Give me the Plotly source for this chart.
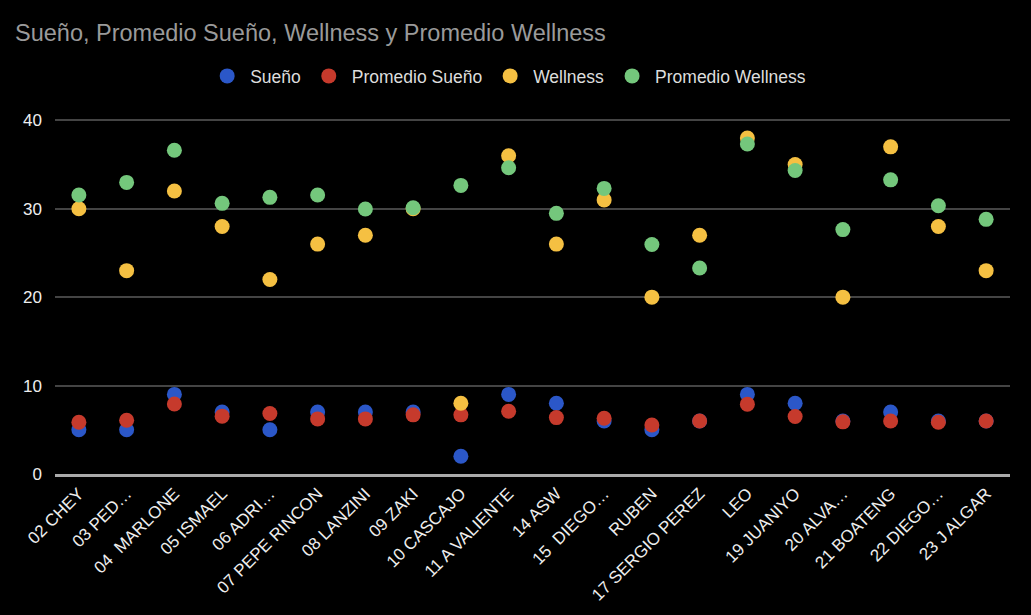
import plotly.graph_objects as go

categories = ["02 CHEY", "03 PED…", "04  MARLONE", "05 ISMAEL", "06 ADRI…", "07 PEPE RINCON",
              "08 LANZINI", "09 ZAKI", "10 CASCAJO", "11 A VALIENTE", "14 ASW", "15  DIEGO…",
              "RUBEN", "17 SERGIO PEREZ", "LEO", "19 JUANIYO", "20 ALVA…", "21 BOATENG",
              "22 DIEGO…", "23 J ALGAR"]

sueno = [5, 5, 9, 7, 5, 7, 7, 7, 2, 9, 8, 6, 5, 6, 9, 8, 6, 7, 6, 6]
promedio_sueno = [5.86, 6.08, 7.92, 6.54, 6.85, 6.23, 6.23, 6.69, 6.69, 7.1, 6.38, 6.3,
                  5.55, 6.0, 7.9, 6.5, 5.9, 6.0, 5.85, 6.0]
wellness = [30, 23, 32, 28, 22, 26, 27, 30, 8, 36, 26, 31, 20, 27, 38, 35, 20, 37, 28, 23]
promedio_wellness = [31.55, 32.98, 36.62, 30.61, 31.29, 31.55, 29.97, 30.12, 32.64, 34.63,
                     29.48, 32.3, 25.95, 23.29, 37.33, 34.33, 27.64, 33.27, 30.34, 28.8]

series = [
    ("Sueño", sueno, "#2b57c8"),
    ("Promedio Sueño", promedio_sueno, "#c63a2c"),
    ("Wellness", wellness, "#f5c042"),
    ("Promedio Wellness", promedio_wellness, "#74c77c"),
]

fig = go.Figure()
for name, vals, color in series:
    fig.add_trace(go.Scatter(x=categories, y=vals, mode="markers", name=name,
                             marker=dict(color=color, size=15, line=dict(width=0))))

fig.update_layout(
    width=1031, height=615,
    paper_bgcolor="#000000", plot_bgcolor="#000000",
    font=dict(family="Liberation Sans, Arial, sans-serif", color="#eeeeee", size=17),
    title=dict(text="Sueño, Promedio Sueño, Wellness y Promedio Wellness",
               x=15 / 1031, xanchor="left", y=1 - 33 / 615, yanchor="middle",
               font=dict(size=23.5, color="#9a9a9a")),
    legend=dict(orientation="h", x=0.474, xanchor="center", y=1 - 76 / 615, yanchor="middle",
                yref="container", font=dict(size=17.5, color="#dddddd"), itemwidth=36,
                bgcolor="rgba(0,0,0,0)"),
    margin=dict(l=55, r=21, t=119, b=141, autoexpand=False),
    showlegend=True,
)
fig.update_xaxes(tickangle=-45, showgrid=False, ticks="", showline=True,
                 linecolor="#aaaaaa", linewidth=3, automargin=False,
                 range=[-0.5, len(categories) - 0.5],
                 tickfont=dict(size=17, color="#eeeeee"), zeroline=False)
fig.update_yaxes(range=[0, 40.15], tickvals=[0, 10, 20, 30, 40], showgrid=True,
                 gridcolor="#444444", gridwidth=2, zeroline=False, automargin=False,
                 tickfont=dict(size=17, color="#eeeeee"), ticks="", ticklabelstandoff=12)

fig.write_html("out.html", config={"displayModeBar": False},
               post_script="document.body.style.margin='0';document.body.style.background='#000';")
